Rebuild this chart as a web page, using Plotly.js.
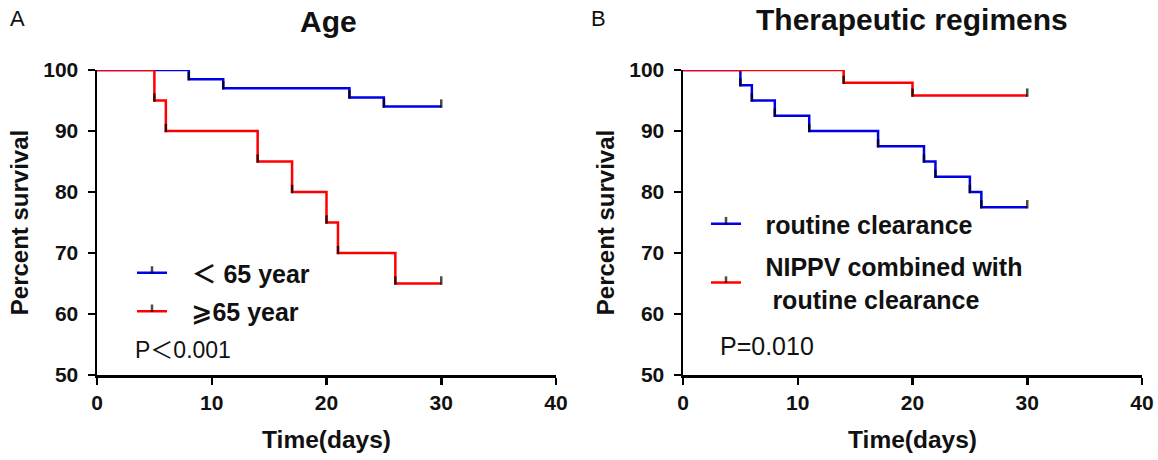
<!DOCTYPE html>
<html><head><meta charset="utf-8">
<script src="https://cdn.plot.ly/plotly-3.0.1.min.js"></script>
<style>html,body{margin:0;padding:0;background:#fff}#chart{width:1158px;height:460px}</style>
</head><body><div id="chart"></div>
<script>
// ---- Data ----
// Panel A: Age
const ageDaysUnder65 = [0, 8, 11, 22, 25, 30];
const ageSurvUnder65 = [100, 98.5, 97.0, 95.5, 94.0, 94.0];
const ageDaysOver65  = [0, 5, 6, 14, 17, 20, 21, 26, 30];
const ageSurvOver65  = [100, 95, 90, 85, 80, 75, 70, 65, 65];
// Panel B: Therapeutic regimens
const regDaysRoutine = [0, 5, 6, 8, 11, 17, 21, 22, 25, 26, 30];
const regSurvRoutine = [100, 97.5, 95, 92.5, 90, 87.5, 85, 82.5, 80, 77.5, 77.5];
const regDaysNippv   = [0, 14, 20, 30];
const regSurvNippv   = [100, 97.9, 95.8, 95.8];
// Tick labels / text
const xTickVals = [0, 10, 20, 30, 40];
const yTickVals = [50, 60, 70, 80, 90, 100];
const seriesNames = ['＜ 65 year', '⩾65 year', 'routine clearance', 'NIPPV combined with<br>\u00a0routine clearance'];
const panelTitles = ['Age', 'Therapeutic regimens'];
const panelLetters = ['A', 'B'];
const pValues = ['P＜0.001', 'P=0.010'];
const xTitle = 'Time(days)';
const yTitle = 'Percent survival';

const FONT = 'Liberation Sans, Arial, DejaVu Sans, Noto Sans CJK SC, sans-serif';
const BLUE = 'rgb(0,0,230)';
const RED = 'rgb(255,0,0)';
const GAP = '\u2002\u00a0'; // space between legend line sample and its label

function legendLabel(name) {
  return name.split('<br>').map(s => GAP + s).join('<br>');
}

function kmTrace(x, y, name, color, xa, ya, legend) {
  return {
    type: 'scatter', mode: 'lines+markers', x: x, y: y, name: legendLabel(name),
    xaxis: xa, yaxis: ya, legend: legend, legendgroup: name,
    line: {shape: 'hv', color: color, width: 2.5},
    // censor ticks: no tick at the start point; first angle is what the legend uses
    marker: {symbol: 'line-ns', size: x.map((v, i) => i === 0 ? 0 : 6),
             standoff: 3, angle: x.map((v, i) => i === 0 ? 0 : 180),
             color: 'black', line: {color: 'black', width: 2.5}},
    cliponaxis: false, hoverinfo: 'x+y'
  };
}

const data = [
  kmTrace(ageDaysUnder65, ageSurvUnder65, seriesNames[0], BLUE, 'x', 'y', 'legend'),
  kmTrace(ageDaysOver65, ageSurvOver65, seriesNames[1], RED, 'x', 'y', 'legend'),
  kmTrace(regDaysRoutine, regSurvRoutine, seriesNames[2], BLUE, 'x2', 'y2', 'legend2'),
  kmTrace(regDaysNippv, regSurvNippv, seriesNames[3], RED, 'x2', 'y2', 'legend2')
];

const W = 1158, H = 460;
function axisX(domain, anchor) {
  return {
    domain: domain, anchor: anchor, range: [0, 40], tickvals: xTickVals,
    showline: true, linewidth: 2.5, linecolor: 'black', mirror: false,
    ticks: 'outside', ticklen: 7, tickwidth: 2.5, tickcolor: 'black',
    showgrid: false, zeroline: false, fixedrange: true,
    tickfont: {family: FONT, size: 21, weight: 'bold', color: '#111'},
    title: {text: xTitle, font: {family: FONT, size: 24.5, weight: 'bold', color: '#111'}, standoff: 18}
  };
}
function axisY(anchor) {
  return {
    domain: [1 - 375 / H, 1 - 70 / H], anchor: anchor, range: [50, 100], tickvals: yTickVals,
    showline: true, linewidth: 2.5, linecolor: 'black',
    ticks: 'outside', ticklen: 7, tickwidth: 2.5, tickcolor: 'black',
    showgrid: false, zeroline: false, fixedrange: true, ticklabelstandoff: 5,
    tickfont: {family: FONT, size: 21, weight: 'bold', color: '#111'},
    title: {text: yTitle, font: {family: FONT, size: 24, weight: 'bold', color: '#111'}, standoff: 8}
  };
}

const legendCommon = {
  xanchor: 'left', yanchor: 'top', bgcolor: 'rgba(0,0,0,0)', borderwidth: 0,
  font: {family: FONT, size: 25, weight: 'bold', color: '#111'},
  traceorder: 'grouped', itemwidth: 30, itemclick: false, itemdoubleclick: false
};

const layout = {
  width: W, height: H, margin: {l: 0, r: 0, t: 0, b: 0},
  paper_bgcolor: 'white', plot_bgcolor: 'white', showlegend: true,
  xaxis: axisX([97 / W, 556 / W], 'y'),
  yaxis: axisY('x'),
  xaxis2: axisX([683 / W, 1142 / W], 'y2'),
  yaxis2: axisY('x2'),
  legend: Object.assign({}, legendCommon, {x: 132 / W, y: 1 - 250 / H, tracegroupgap: 3}),
  legend2: Object.assign({}, legendCommon, {x: 706 / W, y: 1 - 201 / H, tracegroupgap: 7}),
  annotations: [
    {text: panelLetters[0], x: 17 / W, y: 1 - 19 / H, xanchor: 'center', yanchor: 'middle',
     xref: 'paper', yref: 'paper', showarrow: false, font: {family: FONT, size: 22, color: '#111'}},
    {text: panelLetters[1], x: 598 / W, y: 1 - 19 / H, xanchor: 'center', yanchor: 'middle',
     xref: 'paper', yref: 'paper', showarrow: false, font: {family: FONT, size: 22, color: '#111'}},
    {text: panelTitles[0], x: 328 / W, y: 1 - 22 / H, xanchor: 'center', yanchor: 'middle',
     xref: 'paper', yref: 'paper', showarrow: false, font: {family: FONT, size: 30, weight: 'bold', color: '#111'}},
    {text: panelTitles[1], x: 912 / W, y: 1 - 20 / H, xanchor: 'center', yanchor: 'middle',
     xref: 'paper', yref: 'paper', showarrow: false, font: {family: FONT, size: 30, weight: 'bold', color: '#111'}},
    {text: pValues[0], x: 133 / W, y: 1 - 350 / H, xanchor: 'left', yanchor: 'middle',
     xref: 'paper', yref: 'paper', showarrow: false, font: {family: FONT, size: 23, color: '#111'}},
    {text: pValues[1], x: 718 / W, y: 1 - 346 / H, xanchor: 'left', yanchor: 'middle',
     xref: 'paper', yref: 'paper', showarrow: false, font: {family: FONT, size: 25, color: '#111'}}
  ]
};

Plotly.newPlot('chart', data, layout, {displayModeBar: false, responsive: false, staticPlot: true});
</script>
</body></html>
